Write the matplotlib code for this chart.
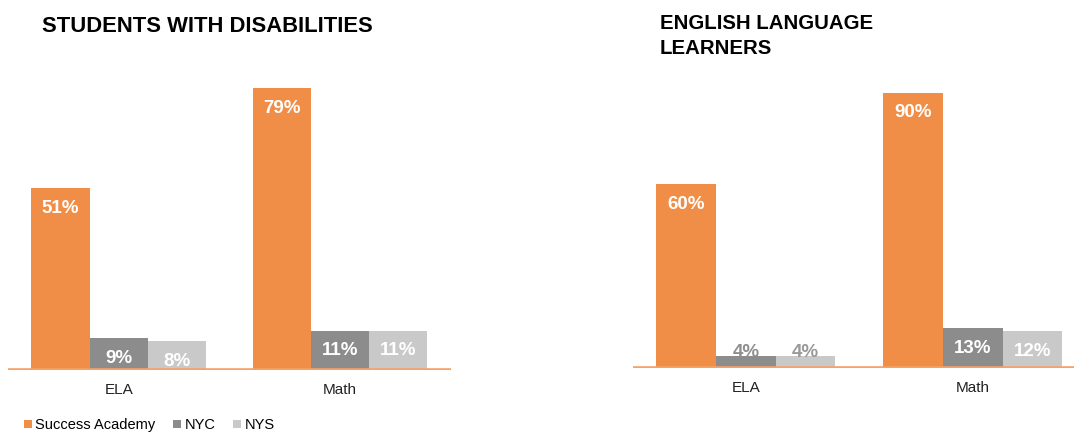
import matplotlib
matplotlib.use("Agg")
import matplotlib.pyplot as plt
from matplotlib.lines import Line2D

plt.rcParams['font.family'] = ['Liberation Sans', 'DejaVu Sans']

categories = ["ELA", "Math"]
series_names = ["Success Academy", "NYC", "NYS"]
colors = ["#F08E47", "#8C8C8C", "#C9C9C9"]

swd_values = {"Success Academy": [51, 79], "NYC": [9, 11], "NYS": [8, 11]}
ell_values = {"Success Academy": [60, 90], "NYC": [4, 13], "NYS": [4, 12]}

titles = ["STUDENTS WITH DISABILITIES", "ENGLISH LANGUAGE\nLEARNERS"]

W, H = 1074, 432
fig = plt.figure(figsize=(W / 100, H / 100), dpi=100)

def px_axes(x0, x1, ybase, px_per_unit, ymax=100):
    height = px_per_unit * ymax
    return fig.add_axes([x0 / W, (H - ybase) / H, (x1 - x0) / W, height / H])

ax1 = px_axes(8, 450.5, 370, 3.57)
ax1.set_xlim(-0.5, 1.5)
ax2 = px_axes(632.5, 1075, 368, 3.06)
ax2.set_xlim(-0.5, 1.45)

bw = 0.263
small_label_colors = {"NYC": "#8E8E8E", "NYS": "#9A9A9A"}

for ax, data in [(ax1, swd_values), (ax2, ell_values)]:
    ax.set_ylim(0, 100)
    for i, name in enumerate(series_names):
        offs = (i - 1) * bw
        xs = [k + offs for k in range(len(categories))]
        vals = data[name]
        ax.bar(xs, vals, width=bw, color=colors[i], linewidth=0)
        for x, v in zip(xs, vals):
            if v < 6:
                ax.annotate(f"{v}%", (x, v), xytext=(0, 2), textcoords="offset points",
                            ha="center", va="center", fontsize=13.5, fontweight="bold",
                            color=small_label_colors.get(name, "#999999"))
            else:
                ax.annotate(f"{v}%", (x, v), xytext=(0, -14.5), textcoords="offset points",
                            ha="center", va="center", fontsize=13.5, fontweight="bold",
                            color="white")
    ax.axhline(0, color="#F6A264", lw=2.6, zorder=5)
    for s in ax.spines.values():
        s.set_visible(False)
    ax.set_yticks([])
    ax.set_xticks(range(len(categories)))
    ax.set_xticklabels(categories, fontsize=11, color="#222222")
    ax.tick_params(axis="x", length=0, pad=9)
    ax.patch.set_alpha(0)

fig.text(42 / W, 1 - 16 / H, titles[0], ha="left", va="top", fontsize=15.8,
         fontweight="bold", color="black")
fig.text(660 / W, 1 - 14 / H, titles[1], ha="left", va="top", fontsize=14.7,
         fontweight="bold", color="black", linespacing=1.4)

handles = [Line2D([], [], marker="s", linestyle="none", markersize=6,
                  markerfacecolor=c, markeredgewidth=0) for c in colors]
fig.legend(handles, series_names, loc="center left", bbox_to_anchor=(22 / W, 1 - 425 / H),
           ncol=3, frameon=False, fontsize=10.5, handletextpad=0.1, columnspacing=1.1,
           handlelength=0.8, borderaxespad=0, borderpad=0)

fig.savefig("out.png", dpi=100)
